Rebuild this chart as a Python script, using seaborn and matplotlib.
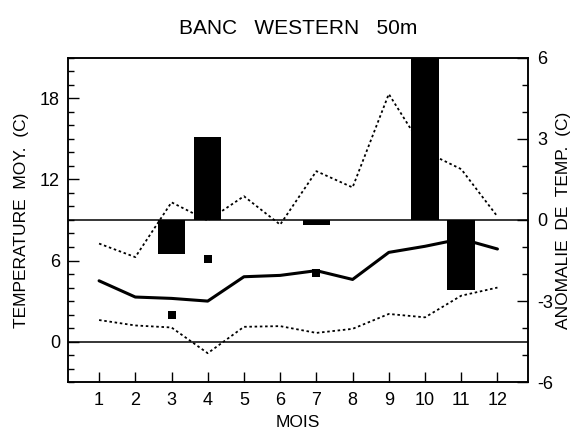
import matplotlib
matplotlib.use("Agg")
import matplotlib.pyplot as plt
from matplotlib.ticker import MultipleLocator
import pandas as pd
import seaborn as sns

# Monthly climatology at 50 m (left axis, deg C)
months = [1, 2, 3, 4, 5, 6, 7, 8, 9, 10, 11, 12]
temp_mean = [4.5, 3.3, 3.2, 3.0, 4.8, 4.9, 5.25, 4.6, 6.6, 7.05, 7.6, 6.85]
temp_max = [7.25, 6.25, 10.3, 8.95, 10.75, 8.65, 12.6, 11.4, 18.3, 14.05, 12.75, 9.25]
temp_min = [1.6, 1.2, 1.05, -0.85, 1.1, 1.15, 0.65, 0.95, 2.05, 1.8, 3.4, 4.0]

# Observed monthly means for the year
obs_months = [3, 4, 7]
obs_temp = [2.0, 6.1, 5.1]

# Temperature anomalies (right axis, deg C)
anom_months = [3, 4, 7, 10, 11]
anom_values = [-1.25, 3.05, -0.18, 6.6, -2.6]

sns.set_theme(style="white")
plt.rcParams["font.family"] = ["Liberation Sans", "DejaVu Sans"]
plt.rcParams["axes.unicode_minus"] = False
for key in ("text.color", "axes.labelcolor", "xtick.color", "ytick.color",
            "xtick.labelcolor", "ytick.labelcolor"):
    plt.rcParams[key] = "black"

clim = pd.DataFrame({"mois": months, "moy": temp_mean,
                     "max": temp_max, "min": temp_min})
obs = pd.DataFrame({"mois": obs_months, "temp": obs_temp})
anom = pd.DataFrame({"mois": anom_months, "anom": anom_values})

fig = plt.figure(figsize=(5.77, 4.30), dpi=100)
ax = fig.add_axes([68.3 / 577, 1 - 382.3 / 430, (527.5 - 68.3) / 577,
                   (382.3 - 57.5) / 430])
ax2 = ax.twinx()

lw_frame = 1.1
dot = (0, (1.4, 1.5))

sns.lineplot(data=clim, x="mois", y="max", ax=ax, color="black",
             lw=1.3, linestyle=dot)
sns.lineplot(data=clim, x="mois", y="min", ax=ax, color="black",
             lw=1.3, linestyle=dot)
sns.lineplot(data=clim, x="mois", y="moy", ax=ax, color="black", lw=2.2)
sns.scatterplot(data=obs, x="mois", y="temp", ax=ax, color="black",
                marker="s", s=30, linewidth=0)
ax.axhline(0, color="black", lw=lw_frame)

sns.barplot(data=anom, x="mois", y="anom", ax=ax2, native_scale=True,
            width=0.76, color="black", saturation=1, errorbar=None,
            linewidth=0)
ax2.axhline(0, color="black", lw=lw_frame)

ax.set_xlim(0.15, 12.83)
ax2.set_xlim(0.15, 12.83)
ax.set_ylim(-3, 21)
ax2.set_ylim(-6, 6)

ax.set_xticks(months)
ax.set_xticklabels([str(m) for m in months])
ax.yaxis.set_major_locator(MultipleLocator(6))
ax.yaxis.set_minor_locator(MultipleLocator(1))
ax2.yaxis.set_major_locator(MultipleLocator(3))
ax2.yaxis.set_minor_locator(MultipleLocator(1))

ax.tick_params(axis="x", which="both", direction="in", length=7,
               width=1.0, color="black", labelsize=13, pad=7,
               bottom=True, top=False)
ax.tick_params(axis="y", which="major", direction="in", length=8,
               width=1.0, color="black", labelsize=13, pad=6,
               left=True, right=False)
ax.tick_params(axis="y", which="minor", direction="in", length=4,
               width=1.0, color="black", left=True, right=False)
ax2.tick_params(axis="y", which="major", direction="in", length=8,
                width=1.0, color="black", labelsize=13, pad=7,
                right=True, left=False)
ax2.tick_params(axis="y", which="minor", direction="in", length=4,
                width=1.0, color="black", right=True, left=False)
ax2.tick_params(axis="x", which="both", bottom=False, top=False,
                labelbottom=False)

for a in (ax, ax2):
    for sp in a.spines.values():
        sp.set_visible(True)
        sp.set_color("black")
        sp.set_linewidth(lw_frame)

ax.set_xlabel("MOIS", fontsize=12.5, labelpad=4)
ax.set_ylabel("TEMPERATURE  MOY.  (C)", fontsize=12.5, labelpad=8)
ax2.set_ylabel("ANOMALIE  DE  TEMP.  (C)", fontsize=12.5, labelpad=2)
ax.set_title("BANC   WESTERN   50m", fontsize=15, pad=17)

fig.savefig("out.png", dpi=100)
